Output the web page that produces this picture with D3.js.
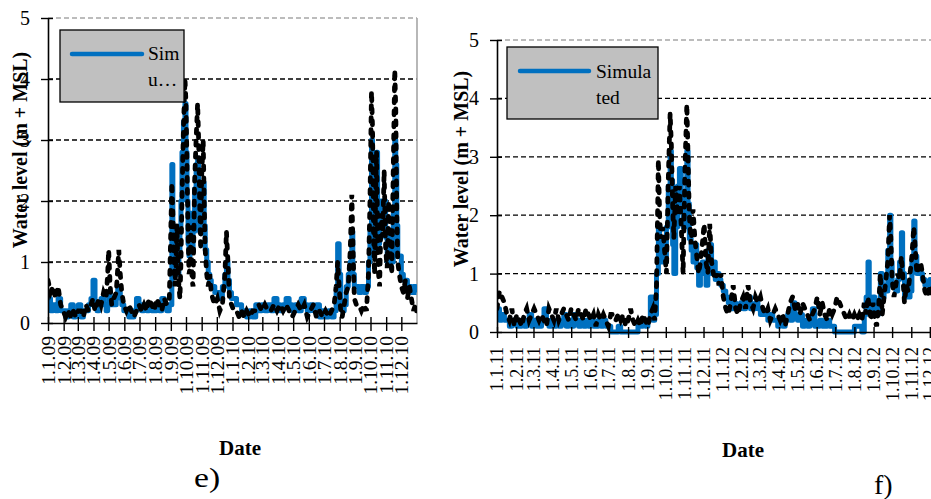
<!DOCTYPE html>
<html>
<head>
<meta charset="utf-8">
<script src="https://cdn.jsdelivr.net/npm/d3@7"></script>
<style>
  body { margin: 0; background: #fff; }
</style>
</head>
<body>
<svg id="chart" width="931" height="499"></svg>
<script>
// panel e) : 2009-2010, day offsets from 1.1.2009
var daysE = [0,5,10,15,20,25,30,35,40,45,50,55,60,65,70,75,80,85,89,93,97,101,105,110,115,118,120,123,126,130,135,138,140,143,146,150,155,160,165,170,175,180,185,190,195,200,205,210,215,220,225,230,235,240,
  245,247,249,251,253,255,257,259,261,263,265,268,271,273,275,277,279,281,283,285,287,290,293,296,298,300,302,304,307,309,311,314,317,320,323,326,330,335,340,345,350,353,356,359,363,368,373,378,383,388,393,
  399,405,411,417,423,429,435,441,447,453,459,465,471,477,483,489,495,501,507,513,519,525,531,537,543,549,555,561,
  566,570,573,576,579,582,586,590,594,598,601,603,606,610,615,620,625,630,634,637,640,642,644,646,648,650,652,654,656,659,662,665,668,671,674,677,680,683,686,688,690,692,695,699,703,707,711,715,719,723,727,729];
var simE = [0.4,0.2,0.3,0.2,0.4,0.2,0.2,0.1,0.2,0.3,0.1,0.2,0.3,0.1,0.2,0.2,0.3,0.4,0.7,0.3,0.2,0.3,0.4,0.3,0.2,0.3,0.5,0.3,0.4,0.3,0.4,0.6,0.5,0.4,0.3,0.2,0.2,0.1,0.1,0.2,0.4,0.3,0.2,0.3,0.2,0.3,0.2,0.2,0.3,0.2,0.4,0.3,0.2,0.3,
  2.6,1.5,0.8,1.0,1.4,1.0,0.8,1.2,1.6,2.0,2.8,3.3,3.6,2.8,2.0,1.3,1.1,1.4,1.8,1.2,1.5,2.2,2.6,2.7,2.0,1.5,1.8,2.2,2.3,1.6,1.2,1.0,0.8,0.7,0.6,0.6,0.5,0.5,0.4,0.6,0.8,1.0,0.7,0.5,0.4,0.4,0.3,0.3,0.2,0.2,0.1,
  0.2,0.1,0.3,0.2,0.3,0.2,0.3,0.2,0.4,0.3,0.2,0.3,0.4,0.3,0.2,0.3,0.2,0.4,0.3,0.2,0.3,0.2,0.3,0.1,0.2,0.1,0.2,0.1,
  0.2,0.5,1.3,0.8,0.3,0.2,0.3,0.6,0.8,1.0,1.5,0.8,0.6,0.6,0.5,0.6,0.5,0.6,1.0,1.5,3.0,2.5,1.4,1.2,2.4,2.8,1.8,1.3,1.6,2.0,1.8,2.0,1.4,1.0,1.5,1.2,1.0,1.8,3.0,2.6,1.6,1.1,1.1,0.8,0.7,0.7,0.6,0.6,0.5,0.6,0.5,0.5];
var obsE = [0.7,0.5,0.6,0.4,0.6,0.3,0.2,0.1,0.2,0.1,0.2,0.1,0.2,0.2,0.1,0.3,0.2,0.3,0.4,0.2,0.3,0.4,0.3,0.5,0.4,0.8,1.2,0.6,0.3,0.4,0.5,0.9,1.2,0.8,0.5,0.3,0.2,0.3,0.2,0.1,0.2,0.3,0.2,0.3,0.2,0.4,0.3,0.2,0.4,0.3,0.2,0.4,0.3,0.4,
  2.3,1.8,1.2,0.6,0.9,1.6,1.0,0.6,0.4,1.0,2.0,3.2,4.0,3.6,2.6,1.5,0.8,0.9,1.6,0.7,0.6,2.3,3.0,3.6,3.0,2.0,1.2,2.4,3.0,2.0,1.2,0.8,0.6,0.8,0.5,0.4,0.3,0.4,0.2,0.3,0.8,1.5,1.0,0.4,0.3,0.2,0.2,0.1,0.2,0.1,0.2,
  0.1,0.2,0.2,0.3,0.2,0.3,0.2,0.2,0.3,0.2,0.3,0.2,0.3,0.2,0.1,0.2,0.3,0.2,0.3,0.1,0.2,0.3,0.1,0.2,0.1,0.2,0.1,0.2,
  0.3,0.6,1.0,0.6,0.2,0.1,0.3,0.5,0.6,1.2,2.1,1.4,0.4,0.3,0.3,0.2,0.3,0.2,0.8,2.0,3.8,3.2,1.5,0.8,2.0,2.8,1.5,0.8,0.6,1.8,1.4,2.5,1.2,0.9,2.0,1.3,0.8,2.5,4.15,3.5,1.8,1.0,0.8,0.6,0.5,0.7,0.4,0.6,0.4,0.2,0.3,0.2];
var labelsE = ["1.1.09","1.2.09","1.3.09","1.4.09","1.5.09","1.6.09","1.7.09","1.8.09","1.9.09","1.10.09","1.11.09","1.12.09",
  "1.1.10","1.2.10","1.3.10","1.4.10","1.5.10","1.6.10","1.7.10","1.8.10","1.9.10","1.10.10","1.11.10","1.12.10"];

// panel f) : 2011-2012, day offsets from 1.1.2011
var daysF = [0,4,8,12,16,20,24,28,32,36,40,44,48,52,56,60,64,68,72,76,80,84,88,92,96,100,104,108,112,116,120,124,128,132,136,140,144,148,152,156,160,164,168,172,176,180,184,188,192,196,200,204,208,212,216,220,224,228,232,236,240,244,
  248,252,255,258,261,263,265,268,271,274,277,280,282,284,286,289,292,295,298,301,304,307,309,311,314,317,320,323,326,329,332,335,338,341,344,347,350,353,356,359,362,366,370,374,378,382,
  386,390,394,398,402,406,410,414,418,422,426,430,434,438,442,446,450,454,458,462,466,470,474,478,482,486,490,494,498,502,506,510,514,518,522,526,530,534,538,542,546,550,554,558,562,566,570,574,578,582,586,590,
  594,597,600,602,605,608,611,614,617,620,623,626,629,632,635,637,639,642,645,648,651,654,656,659,662,665,668,671,674,676,679,682,685,688,692,696,700,704];
var simF = [0.4,0.2,0.3,0.2,0.2,0.1,0.2,0.2,0.1,0.1,0.2,0.1,0.2,0.3,0.1,0.2,0.1,0.1,0.2,0.4,0.2,0.1,0.2,0.1,0.2,0.1,0.2,0.3,0.1,0.2,0.1,0.3,0.2,0.1,0.2,0.1,0.2,0.1,0.2,0.1,0.1,0.2,0.1,0.2,0.1,0.1,0.0,0.0,0.0,0.1,0.0,0.0,0.0,0.0,0.0,0.0,0.0,0.1,0.1,0.2,0.1,0.2,
  0.6,0.2,0.3,1.0,1.8,1.4,1.2,1.6,1.2,1.8,2.5,3.1,2.6,1.5,1.0,1.8,2.5,2.8,2.2,1.8,2.4,3.1,2.2,1.6,1.4,1.2,1.5,1.1,0.8,1.0,1.2,1.0,0.8,1.4,1.5,1.0,1.2,0.9,1.0,0.9,0.8,0.7,0.6,0.5,0.4,0.5,
  0.4,0.4,0.5,0.4,0.5,0.6,0.4,0.4,0.5,0.4,0.3,0.3,0.3,0.2,0.3,0.2,0.2,0.1,0.2,0.1,0.2,0.3,0.2,0.5,0.3,0.2,0.3,0.1,0.2,0.1,0.2,0.4,0.1,0.1,0.2,0.1,0.1,0.2,0.1,0.1,0.0,0.0,0.0,0.0,0.0,0.0,0.0,0.0,0.1,0.1,0.1,0.0,
  0.3,0.6,1.2,0.5,0.3,0.6,0.4,0.3,0.5,1.0,0.6,0.8,0.7,1.4,2.0,1.2,0.8,0.8,0.7,0.9,1.2,1.7,1.0,0.6,0.8,0.6,0.7,1.2,1.9,1.3,1.0,1.0,1.0,0.9,0.8,0.8,0.9,0.8];
var obsF = [0.4,0.7,0.6,0.5,0.3,0.2,0.4,0.1,0.3,0.2,0.1,0.3,0.4,0.2,0.3,0.4,0.3,0.2,0.3,0.2,0.1,0.4,0.3,0.2,0.4,0.2,0.3,0.4,0.3,0.2,0.4,0.3,0.2,0.4,0.3,0.2,0.4,0.3,0.2,0.3,0.1,0.3,0.2,0.3,0.2,0.1,0.3,0.3,0.2,0.3,0.2,0.3,0.1,0.2,0.4,0.2,0.1,0.2,0.1,0.3,0.2,0.1,
  0.3,0.4,0.2,0.8,2.95,2.0,1.6,1.8,1.4,1.0,2.6,3.75,3.2,2.2,1.6,2.5,2.0,2.5,1.8,1.0,2.8,3.9,3.0,2.0,1.5,2.1,1.6,1.3,1.0,1.2,1.5,1.85,1.2,1.0,1.85,1.2,1.0,0.9,1.0,0.8,1.0,0.6,0.4,0.3,0.5,0.8,
  0.4,0.3,0.5,0.6,0.4,0.8,0.5,0.4,0.6,0.5,0.6,0.4,0.3,0.4,0.2,0.3,0.4,0.3,0.2,0.3,0.1,0.3,0.5,0.6,0.4,0.5,0.3,0.5,0.4,0.3,0.2,0.3,0.4,0.6,0.3,0.5,0.3,0.2,0.4,0.3,0.4,0.6,0.5,0.4,0.3,0.2,0.3,0.2,0.3,0.2,0.3,0.2,
  0.5,0.3,0.6,0.4,0.2,0.5,0.2,0.1,0.4,1.0,0.3,0.6,0.9,1.2,2.0,1.6,0.9,0.6,0.8,1.0,0.9,1.3,1.0,0.5,0.8,0.7,1.0,1.3,1.8,1.5,1.0,1.1,1.2,1.0,0.7,0.6,0.8,0.6];
var labelsF = ["1.1.11","1.2.11","1.3.11","1.4.11","1.5.11","1.6.11","1.7.11","1.8.11","1.9.11","1.10.11","1.11.11","1.12.11",
  "1.1.12","1.2.12","1.3.12","1.4.12","1.5.12","1.6.12","1.7.12","1.8.12","1.9.12","1.10.12","1.11.12","1.12.12"];

var yTicks = [0, 1, 2, 3, 4, 5];
var simColor = "#0070c0";
var serif = "'Liberation Serif', 'Times New Roman', serif";

var svg = d3.select("#chart").attr("font-family", serif);

drawPanel({
  id: "e", days: daysE, sim: simE, obs: obsE, labels: labelsE,
  start: new Date(2009, 0, 1), end: new Date(2011, 0, 1),
  left: 48, right: 417, top: 18, bottom: 323, rightBorder: true,
  tickUp: 6, tickDown: 8, labelTop: 13, labelSize: 19.5,
  titleX: 27, titleY: 150,
  legend: {x: 60, y: 30, w: 124, h: 72, lx1: 72, lx2: 142, ly: 54, tx: 148, t1: "Sim", t2: "u…", b1: 60, b2: 86},
  xTitle: [240, 455], tag: "e)", tagPos: [194, 487], tagSize: 28, tagStretch: 1.2
});

drawPanel({
  id: "f", days: daysF, sim: simF, obs: obsF, labels: labelsF,
  start: new Date(2011, 0, 1), end: new Date(2013, 0, 1),
  left: 497, right: 949, top: 40, bottom: 332, rightBorder: false,
  tickUp: 5, tickDown: 6, labelTop: 15, labelSize: 18,
  titleX: 468, titleY: 169,
  legend: {x: 507, y: 47, w: 151, h: 72, lx1: 520, lx2: 589, ly: 71, tx: 596, t1: "Simula", t2: "ted", b1: 78, b2: 104},
  xTitle: [743, 457], tag: "f)", tagPos: [874, 494], tagSize: 28, tagStretch: 1
});

function drawPanel(p) {
  var g = svg.append("g");

  var x = d3.scaleTime().domain([p.start, p.end]).range([p.left, p.right]);
  var y = d3.scaleLinear().domain([0, 5]).range([p.bottom, p.top]);

  var pts = p.days.map(function (d, i) {
    return {date: d3.timeDay.offset(p.start, d), sim: p.sim[i], obs: p.obs[i]};
  });

  // grid lines
  g.selectAll(".grid").data(yTicks.slice(1)).enter()
    .append("line")
    .attr("x1", p.left).attr("x2", Math.min(p.right, 931))
    .attr("y1", function (d) { return y(d); })
    .attr("y2", function (d) { return y(d); })
    .attr("stroke", function (d) { return d === 5 ? "#a6a6a6" : "#000"; })
    .attr("stroke-width", function (d) { return d === 5 ? 1.6 : 1.3; })
    .attr("stroke-dasharray", "5,3");

  if (p.rightBorder) {
    g.append("line")
      .attr("x1", p.right).attr("x2", p.right)
      .attr("y1", p.top).attr("y2", p.bottom)
      .attr("stroke", "#a6a6a6").attr("stroke-width", 1.6);
  }

  // clip so lines stay inside plot area
  svg.append("clipPath").attr("id", "clip-" + p.id)
    .append("rect")
    .attr("x", p.left).attr("y", p.top - 4)
    .attr("width", p.right - p.left).attr("height", p.bottom - p.top + 8);

  var simLine = d3.line()
    .x(function (d) { return x(d.date); })
    .y(function (d) { return y(d.sim); })
    .curve(d3.curveStepAfter);

  var obsLine = d3.line()
    .x(function (d) { return x(d.date); })
    .y(function (d) { return y(d.obs); });

  var lines = g.append("g").attr("clip-path", "url(#clip-" + p.id + ")");
  lines.append("path").datum(pts)
    .attr("d", simLine)
    .attr("fill", "none")
    .attr("stroke", simColor)
    .attr("stroke-width", 5)
    .attr("stroke-linejoin", "round");
  lines.append("path").datum(pts)
    .attr("d", obsLine)
    .attr("fill", "none")
    .attr("stroke", "#000")
    .attr("stroke-width", 4.8)
    .attr("stroke-linecap", "round")
    .attr("stroke-dasharray", "4,8");

  // y axis
  var yAxis = g.append("g")
    .attr("transform", "translate(" + p.left + ",0)")
    .call(d3.axisLeft(y).tickValues(yTicks).tickSize(0).tickPadding(18).tickFormat(d3.format("d")));
  yAxis.attr("font-family", serif);
  yAxis.select(".domain").attr("stroke", "#000").attr("stroke-width", 1.6);
  yAxis.selectAll(".tick line").attr("x1", -7).attr("x2", 5)
    .attr("stroke", "#000").attr("stroke-width", 1.4);
  yAxis.selectAll(".tick text")
    .attr("font-size", 20).attr("font-family", serif).attr("fill", "#000");

  // x axis
  var months = d3.timeMonth.range(p.start, p.end);
  var xAxis = g.append("g")
    .attr("transform", "translate(0," + p.bottom + ")")
    .call(d3.axisBottom(x).tickValues(months).tickSize(0)
      .tickFormat(function (d, i) { return p.labels[i]; }));
  xAxis.attr("font-family", serif);
  xAxis.select(".domain").attr("stroke", "#000").attr("stroke-width", 1.6);
  xAxis.selectAll(".tick line").attr("y1", -p.tickUp).attr("y2", p.tickDown)
    .attr("stroke", "#000").attr("stroke-width", 1.4);
  xAxis.selectAll(".tick text")
    .attr("font-size", p.labelSize).attr("font-family", serif).attr("fill", "#000")
    .attr("text-anchor", "end")
    .attr("x", 0).attr("y", 0).attr("dy", "0.33em")
    .attr("transform", "translate(0," + p.labelTop + ") rotate(-90)");

  // axis titles
  g.append("text")
    .attr("transform", "translate(" + p.titleX + "," + p.titleY + ") rotate(-90)")
    .attr("text-anchor", "middle")
    .attr("font-size", 20).attr("font-weight", "bold")
    .text("Water level (m + MSL)");

  g.append("text")
    .attr("x", p.xTitle[0]).attr("y", p.xTitle[1])
    .attr("text-anchor", "middle")
    .attr("font-size", 21).attr("font-weight", "bold")
    .text("Date");

  g.append("text")
    .attr("transform", "translate(" + p.tagPos[0] + "," + p.tagPos[1] + ") scale(" + p.tagStretch + ",1)")
    .attr("font-size", p.tagSize)
    .text(p.tag);

  // legend (cut short like the original)
  var L = p.legend;
  var lg = g.append("g");
  lg.append("rect")
    .attr("x", L.x).attr("y", L.y).attr("width", L.w).attr("height", L.h)
    .attr("fill", "#c0c0c0").attr("stroke", "#000").attr("stroke-width", 1.3);
  lg.append("line")
    .attr("x1", L.lx1).attr("x2", L.lx2).attr("y1", L.ly).attr("y2", L.ly)
    .attr("stroke", simColor).attr("stroke-width", 4.5).attr("stroke-linecap", "round");
  lg.append("text").attr("x", L.tx).attr("y", L.b1).attr("font-size", 19.5).text(L.t1);
  lg.append("text").attr("x", L.tx).attr("y", L.b2).attr("font-size", 19.5).text(L.t2);
}
</script>
</body>
</html>
